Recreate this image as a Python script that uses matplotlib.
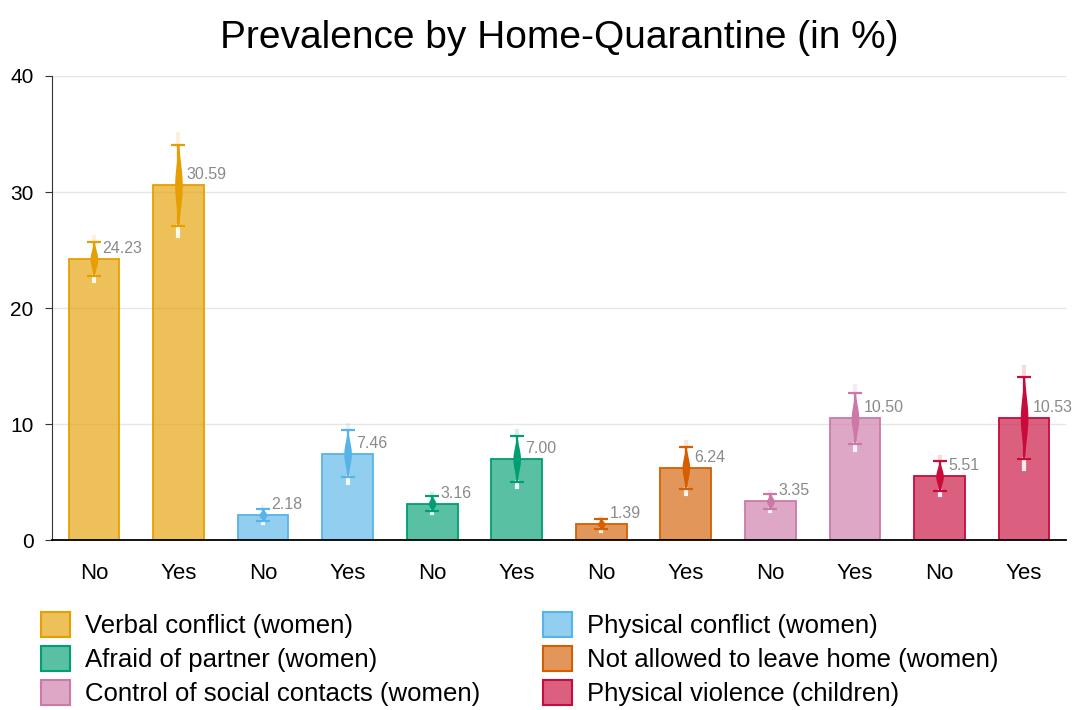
import numpy as np
import matplotlib.pyplot as plt
from matplotlib.colors import to_rgb
from matplotlib.patches import Patch

plt.rcParams['font.family'] = ['Liberation Sans', 'DejaVu Sans']

groups = ['Verbal conflict (women)', 'Physical conflict (women)', 'Afraid of partner (women)',
          'Not allowed to leave home (women)', 'Control of social contacts (women)',
          'Physical violence (children)']
colors = ['#E69F00', '#56B4E9', '#009E73', '#D55E00', '#CC79A7', '#C90B3C']
quarantine = ['No', 'Yes']

# prevalence (%) for No / Yes per group
prev_no = [24.23, 2.18, 3.16, 1.39, 3.35, 5.51]
prev_yes = [30.59, 7.46, 7.00, 6.24, 10.50, 10.53]
# half width of the 95% interval
ci_no = [1.5, 0.55, 0.65, 0.45, 0.65, 1.3]
ci_yes = [3.5, 2.0, 1.95, 1.8, 2.2, 3.5]

fig = plt.figure(figsize=(10.75, 7.1), dpi=100)
ax = fig.add_axes([0.048, 0.239, 0.944, 0.654])

vals, cis, cols, labels = [], [], [], []
for g in range(len(groups)):
    vals += [prev_no[g], prev_yes[g]]
    cis += [ci_no[g], ci_yes[g]]
    cols += [colors[g], colors[g]]
    labels += quarantine
x = np.arange(len(vals))

ax.bar(x, vals, width=0.6, color=cols, alpha=0.65, edgecolor='none', zorder=2)
ax.bar(x, vals, width=0.6, color='none', edgecolor=cols, linewidth=1.3, zorder=2)

for xi, v, c, col in zip(x, vals, cis, cols):
    sd = c / 1.96
    # light tails of the distribution
    ax.plot([xi, xi], [v - 1.25 * c, v - c], color='white', lw=3, alpha=0.9, zorder=3)
    ax.plot([xi, xi], [v + c, v + 1.25 * c], color=col, lw=3, alpha=0.15, zorder=3)
    yy = np.linspace(v - c, v + c, 80)
    w = 0.045 * np.exp(-0.5 * ((yy - v) / sd) ** 2)
    ax.fill_betweenx(yy, xi - w, xi + w, color=col, lw=0, zorder=4)
    ax.errorbar(xi, v, yerr=c, color=col, lw=1.6, capsize=5, capthick=1.6, zorder=5)
    ax.text(xi + 0.1, v + 0.9, f'{v:.2f}', color='#8a8a8a', fontsize=11.5,
            ha='left', va='center', zorder=6)

ax.set_xlim(-0.5, 11.5)
ax.set_ylim(0, 40)
ax.set_yticks([0, 10, 20, 30, 40])
ax.set_xticks(x)
ax.set_xticklabels(labels, fontsize=16)
ax.tick_params(axis='y', labelsize=15, length=5, pad=8, color='#333333')
ax.tick_params(axis='x', length=0, pad=16)
ax.yaxis.grid(True, color='#e6e6e6', lw=1)
ax.set_axisbelow(True)
for s in ['top', 'right']:
    ax.spines[s].set_visible(False)
ax.spines['left'].set_color('#333333')
ax.spines['bottom'].set_color('black')
ax.spines['bottom'].set_linewidth(1.3)

ax.set_title('Prevalence by Home-Quarantine (in %)', fontsize=28, pad=20)

# legend is filled row by row in the reference
order = [0, 2, 4, 1, 3, 5]
handles = [Patch(facecolor=(*to_rgb(colors[i]), 0.65), edgecolor=colors[i], lw=1.5)
           for i in order]
fig.legend(handles, [groups[i] for i in order], ncol=2, loc='upper left',
           bbox_to_anchor=(0.017, 0.170), frameon=False, fontsize=18.5,
           handlelength=1.1, handleheight=1.1, columnspacing=2.45,
           labelspacing=0.3, handletextpad=0.6)

fig.savefig('out.png', dpi=100)
